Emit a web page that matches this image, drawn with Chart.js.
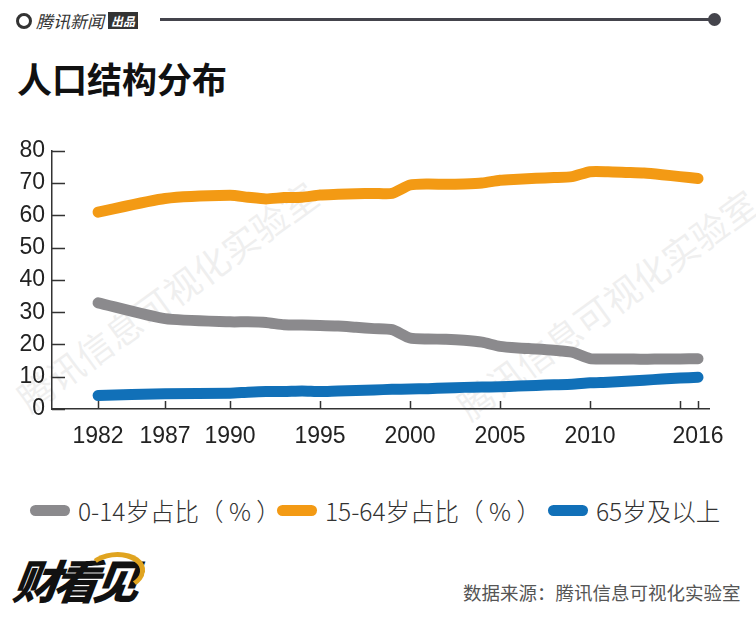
<!DOCTYPE html>
<html>
<head>
<meta charset="utf-8">
<script src="https://cdn.jsdelivr.net/npm/chart.js@4"></script>
<style>
  body { margin: 0; background: #fff; }
  #page { position: relative; width: 756px; height: 626px; overflow: hidden; background: #fff; font-family: "Noto Sans CJK SC", "Noto Sans", sans-serif; }
  .abs { position: absolute; }
  #brand { left: 16px; top: 8px; font-size: 17px; font-style: italic; color: #333; display: flex; align-items: center; gap: 4px; }
  #brand .ring { width: 16px; height: 16px; border: 3px solid #333; border-radius: 50%; box-sizing: border-box; }
  #brand .tag { background: #333; color: #fff; font-size: 12px; padding: 0 3px; font-style: italic; font-weight: bold; }
  #rule { left: 160px; top: 18px; width: 552px; height: 3px; background: #44444c; }
  #dot { left: 708px; top: 13px; width: 13px; height: 13px; border-radius: 50%; background: #44444c; }
  #title { left: 17px; top: 52px; font-size: 35px; font-weight: bold; color: #111; }
  .wm { color: #000; opacity: 0.06; font-size: 36px; transform-origin: left bottom; transform: rotate(-36deg); white-space: nowrap; }
  #wrap { left: 0; top: 130px; width: 756px; height: 330px; }
  #legend { left: 0; top: 493px; width: 756px; height: 36px; font-size: 24.5px; color: #333; font-weight: 300; }
  #legend .item { position: absolute; top: 0; display: flex; align-items: center; white-space: nowrap; }
  #legend .pill { width: 40px; height: 11px; border-radius: 6px; margin-right: 8px; }
  #logo { left: 14px; top: 546px; font-size: 46px; font-weight: 900; font-style: italic; color: #111; letter-spacing: -6px; transform: skewX(-8deg); }
  #logo .sw { position: absolute; left: 70px; top: 6px; width: 50px; height: 30px; border: 5px solid #e0a420; border-radius: 50%; border-left-color: transparent; border-bottom-color: transparent; }
  #source { left: 463px; top: 579px; font-size: 18.5px; color: #555; }
</style>
</head>
<body>
<div id="page">
  <div class="abs wm" style="left:36px; top:370px;">腾讯信息可视化实验室</div>
  <div class="abs wm" style="left:476px; top:378px;">腾讯信息可视化实验室</div>
  <div class="abs" id="brand"><span class="ring"></span><span>腾讯新闻</span><span class="tag">出品</span></div>
  <div class="abs" id="rule"></div>
  <div class="abs" id="dot"></div>
  <div class="abs" id="title">人口结构分布</div>
  <div class="abs" id="wrap"><canvas id="chart"></canvas></div>
  <div class="abs" id="legend"></div>
  <div class="abs" id="logo">财看见<span class="sw"></span></div>
  <div class="abs" id="source">数据来源：腾讯信息可视化实验室</div>
</div>
<script>
// years with a data point
const years = [1982, 1987, 1990, 1991, 1992, 1993, 1994, 1995, 1996, 1997, 1998, 1999,
    2000, 2001, 2002, 2003, 2004, 2005, 2006, 2007, 2008, 2009,
    2010, 2011, 2012, 2013, 2014, 2015, 2016];

const age0to14 = [32.9, 28.0, 27.0, 27.0, 26.8, 26.1, 26.0, 25.9, 25.7, 25.3, 24.9, 24.6,
    22.0, 21.7, 21.6, 21.3, 20.7, 19.4, 18.9, 18.6, 18.2, 17.6,
    15.6, 15.5, 15.5, 15.4, 15.5, 15.5, 15.6];
const age15to64 = [61.0, 65.2, 66.2, 65.6, 65.1, 65.5, 65.6, 66.3, 66.5, 66.7, 66.8, 66.8,
    69.4, 69.7, 69.6, 69.7, 70.0, 70.9, 71.2, 71.5, 71.7, 72.0,
    73.5, 73.5, 73.3, 73.1, 72.6, 72.0, 71.4];
const age65plus = [4.2, 4.7, 4.9, 5.2, 5.4, 5.4, 5.6, 5.4, 5.6, 5.7, 5.9, 6.1,
    6.2, 6.3, 6.5, 6.7, 6.8, 6.9, 7.1, 7.3, 7.5, 7.7,
    8.1, 8.3, 8.6, 8.9, 9.3, 9.6, 9.8];

const seriesNames = ['0-14岁占比（ % ）', '15-64岁占比（ % ）', '65岁及以上'];
const seriesColors = ['#8b8a8d', '#f39a14', '#1170b8'];

const tickYears = [1982, 1987, 1990, 1995, 2000, 2005, 2010, 2015, 2016];
const tickLabels = ['1982', '1987', '1990', '1995', '2000', '2005', '2010', '', '2016'];
const yTicks = [0, 10, 20, 30, 40, 50, 60, 70, 80];

// the source axis squeezes the sparse early years: year -> axis position
const warpYears = [1982, 1987, 1990, 2016];
const warpPos = [1982.67, 1986.39, 1990, 2016];

function warp(v) {
    if (v <= warpYears[0]) return warpPos[0] + (v - warpYears[0]);
    for (let i = 1; i < warpYears.length; i++) {
        if (v <= warpYears[i]) {
            const t = (v - warpYears[i - 1]) / (warpYears[i] - warpYears[i - 1]);
            return warpPos[i - 1] + t * (warpPos[i] - warpPos[i - 1]);
        }
    }
    return v;
}

class WarpedScale extends Chart.LinearScale {
    getPixelForValue(value) {
        return super.getPixelForValue(warp(value));
    }
}
WarpedScale.id = 'warped';
WarpedScale.defaults = Chart.LinearScale.defaults;
Chart.register(WarpedScale);

function toPoints(values) {
    return values.map((v, i) => ({ x: years[i], y: v }));
}

// legend
const legend = document.getElementById('legend');
const legendLeft = [30, 277, 548];
seriesNames.forEach((name, i) => {
    const item = document.createElement('div');
    item.className = 'item';
    item.style.left = legendLeft[i] + 'px';
    item.innerHTML = '<span class="pill" style="background:' + seriesColors[i] + '"></span><span>' + name + '</span>';
    legend.appendChild(item);
});

// small tick marks pointing into the plot
const innerTicks = {
    id: 'innerTicks',
    beforeDatasetsDraw(chart) {
        const ctx = chart.ctx;
        const xs = chart.scales.x, ys = chart.scales.y;
        const area = chart.chartArea;
        ctx.save();
        ctx.strokeStyle = '#333';
        ctx.lineWidth = 1.5;
        ctx.beginPath();
        tickYears.forEach(v => {
            const px = Math.round(xs.getPixelForValue(v)) + 0.5;
            ctx.moveTo(px, area.bottom);
            ctx.lineTo(px, area.bottom - 8);
        });
        yTicks.forEach(v => {
            const py = Math.round(ys.getPixelForValue(v)) + 0.5;
            ctx.moveTo(area.left, py);
            ctx.lineTo(area.left + 13, py);
        });
        ctx.stroke();
        ctx.restore();
    }
};

const datasetValues = [age0to14, age15to64, age65plus];

new Chart(document.getElementById('chart'), {
    type: 'line',
    data: {
        datasets: datasetValues.map((vals, i) => ({
            label: seriesNames[i],
            data: toPoints(vals),
            borderColor: seriesColors[i],
            backgroundColor: seriesColors[i],
            borderWidth: 11,
            borderCapStyle: 'round',
            borderJoinStyle: 'round',
            pointRadius: 0,
            tension: 0.2
        }))
    },
    options: {
        responsive: true,
        maintainAspectRatio: false,
        animation: false,
        layout: { padding: { top: 20, right: 47, left: 0, bottom: 0 } },
        plugins: { legend: { display: false }, tooltip: { enabled: false } },
        scales: {
            x: {
                type: 'warped',
                min: 1980.11,
                max: 2016.61,
                grid: { drawOnChartArea: false, drawTicks: false },
                border: { display: true, color: '#333', width: 1.5 },
                afterBuildTicks: s => { s.ticks = tickYears.map(v => ({ value: v })); },
                afterFit: s => { s.height = 51; },
                ticks: {
                    autoSkip: false,
                    maxRotation: 0,
                    padding: 14,
                    color: '#222',
                    font: { family: 'Liberation Sans', size: 23 },
                    callback: v => tickLabels[tickYears.indexOf(v)]
                }
            },
            y: {
                min: 0,
                max: 80,
                grid: { drawOnChartArea: false, drawTicks: false },
                border: { display: true, color: '#333', width: 1.5 },
                afterFit: s => { s.width = 52; },
                ticks: {
                    stepSize: 10,
                    padding: 7,
                    color: '#222',
                    font: { family: 'Liberation Sans', size: 23 }
                }
            }
        }
    },
    plugins: [innerTicks]
});
</script>
</body>
</html>
